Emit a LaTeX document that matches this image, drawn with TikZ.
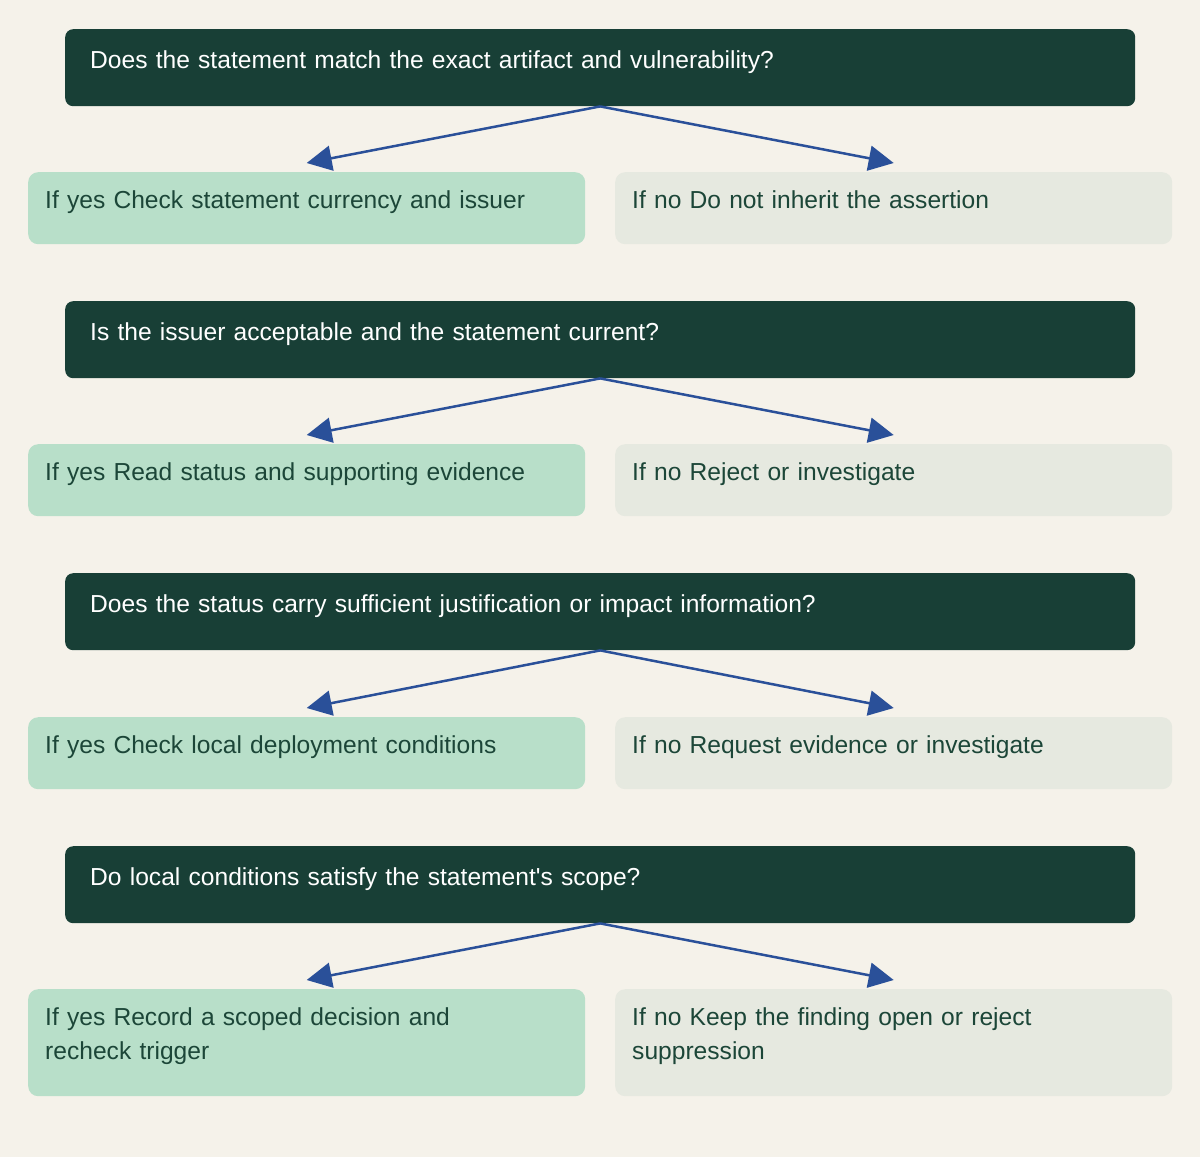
\documentclass[tikz,border=0pt]{standalone}
\usepackage{fontspec}
\setmainfont{Liberation Sans}[Ligatures=TeXOff]
\usetikzlibrary{arrows.meta}
\definecolor{paper}{HTML}{F5F2EA}
\definecolor{deepgreen}{HTML}{183F36}
\definecolor{mint}{HTML}{B8DFC9}
\definecolor{pale}{HTML}{E6E9E0}
\definecolor{inkgreen}{HTML}{1C4638}
\definecolor{linkblue}{HTML}{2A5099}
\tikzset{
  ques/.style={anchor=north west, fill=deepgreen, text=white, rounded corners=8pt,
    inner xsep=25pt, inner ysep=0pt, text width=1020pt, align=left,
    text height=39pt, text depth=38pt},
  ans/.style={anchor=north west, text=inkgreen, rounded corners=10pt,
    inner xsep=17pt, inner ysep=0pt, text width=523pt, align=left,
    text height=36.5pt, text depth=35.5pt},
  yesbox/.style={ans, fill=mint},
  nobox/.style={ans, fill=pale},
  link/.style={draw=linkblue, line width=2.5pt,
    -{Triangle[length=25pt,width=25pt]}}
}
\begin{document}
\begin{tikzpicture}[x=1pt, y=-1pt, font=\fontsize{24.6}{34}\selectfont]
		\fill[paper] (0,0) rectangle (1200,1157);
		\useasboundingbox (0,0) rectangle (1200,1157);

		\node[ques] (q1) at (65,29) {Does the statement match the exact artifact and vulnerability?};
		\node[yesbox] (y1) at (28,172) {If yes Check statement currency and issuer};
		\node[nobox] (n1) at (615,172) {If no Do not inherit the assertion};

		\node[ques] (q2) at (65,301) {Is the issuer acceptable and the statement current?};
		\node[yesbox] (y2) at (28,444) {If yes Read status and supporting evidence};
		\node[nobox] (n2) at (615,444) {If no Reject or investigate};

		\node[ques] (q3) at (65,573) {Does the status carry sufficient justification or impact information?};
		\node[yesbox] (y3) at (28,717) {If yes Check local deployment conditions};
		\node[nobox] (n3) at (615,717) {If no Request evidence or investigate};

		\node[ques] (q4) at (65,846) {Do local conditions satisfy the statement's scope?};
		\node[yesbox, text height=36pt, text depth=71pt] (y4) at (28,989) {If yes Record a scoped decision and\\recheck trigger};
		\node[nobox, text height=36pt, text depth=71pt] (n4) at (615,989) {If no Keep the finding open or reject\\suppression};

		\draw[link] (q1.south) -- ([yshift=9pt]y1.north);
		\draw[link] (q1.south) -- ([yshift=9pt]n1.north);
		\draw[link] (q2.south) -- ([yshift=9pt]y2.north);
		\draw[link] (q2.south) -- ([yshift=9pt]n2.north);
		\draw[link] (q3.south) -- ([yshift=9pt]y3.north);
		\draw[link] (q3.south) -- ([yshift=9pt]n3.north);
		\draw[link] (q4.south) -- ([yshift=9pt]y4.north);
		\draw[link] (q4.south) -- ([yshift=9pt]n4.north);
\end{tikzpicture}
\end{document}
